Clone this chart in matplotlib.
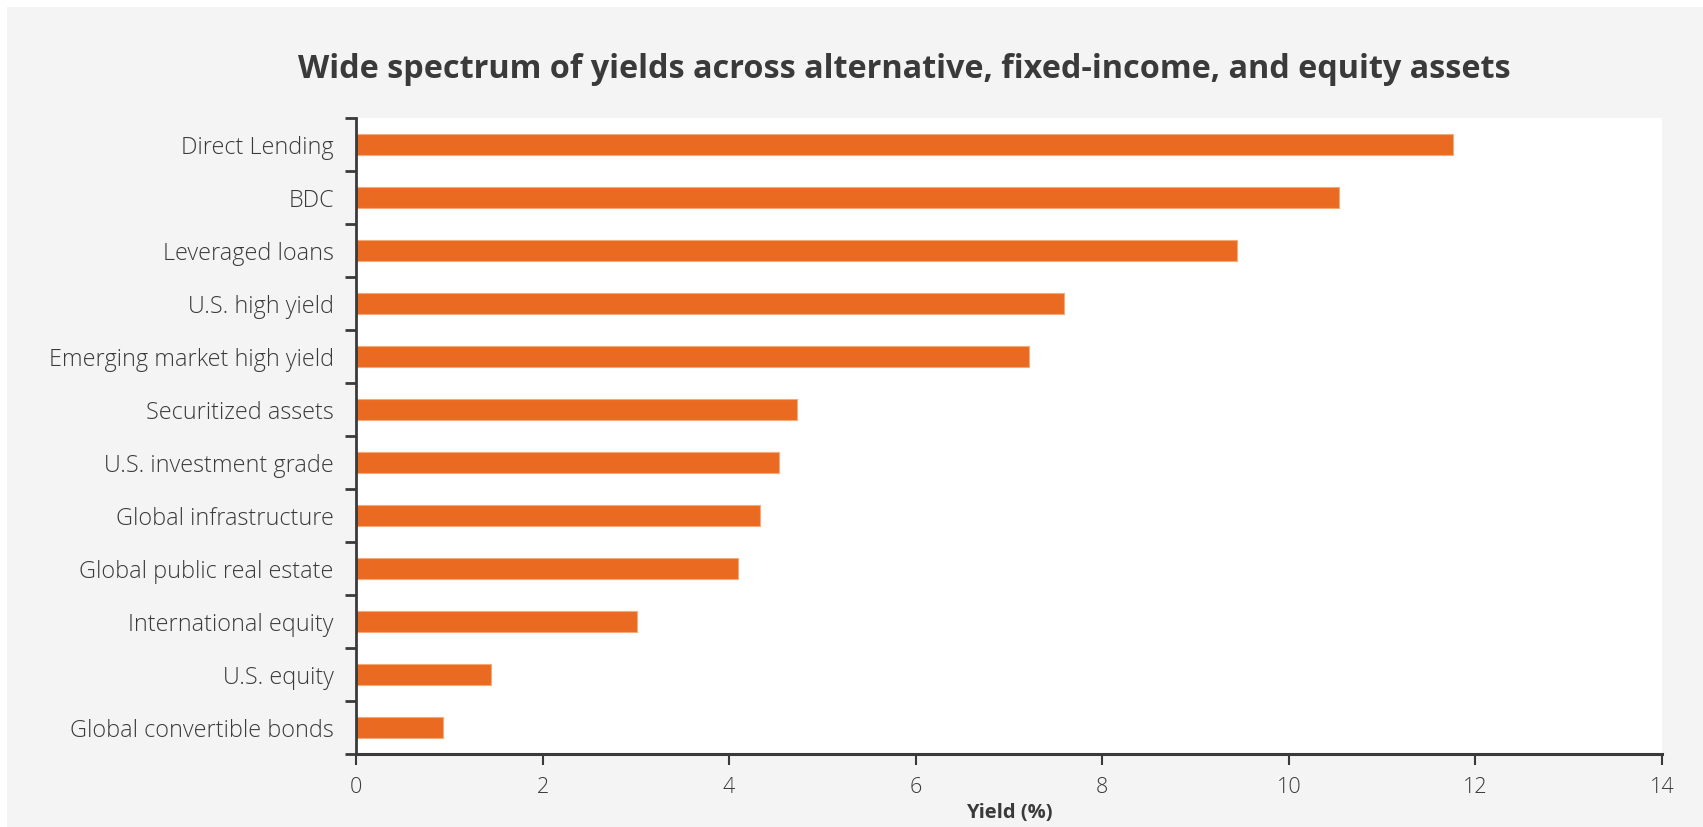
import matplotlib
matplotlib.use("Agg")
import matplotlib.pyplot as plt
import numpy as np
from matplotlib.patches import Rectangle

categories = [
    "Direct Lending", "BDC", "Leveraged loans", "U.S. high yield",
    "Emerging market high yield", "Securitized assets", "U.S. investment grade",
    "Global infrastructure", "Global public real estate", "International equity",
    "U.S. equity", "Global convertible bonds",
]
yields = [11.76, 10.54, 9.44, 7.59, 7.21, 4.73, 4.53, 4.33, 4.10, 3.01, 1.45, 0.93]
x_ticks = [0, 2, 4, 6, 8, 10, 12, 14]

title = "Wide spectrum of yields across alternative, fixed-income, and equity assets"
xlabel = "Yield (%)"

W, H = 1703, 828
plt.rcParams['font.family'] = ['Open Sans', 'DejaVu Sans']
txt = "#3a3a3a"
bar_color = "#EA6A21"

fig = plt.figure(figsize=(W / 100, H / 100), dpi=100)
fig.patch.set_facecolor("white")
fig.add_artist(Rectangle((7 / W, 0), 1, 1 - 8 / H, transform=fig.transFigure,
                         facecolor="#f4f4f4", edgecolor="none", zorder=-10))

ax = fig.add_axes([356 / W, 1 - 755 / H, 1306 / W, 636 / H])
ax.set_facecolor("white")
y = np.arange(len(categories))
ax.barh(y, yields, height=0.4, color=bar_color, edgecolor="#F5A878", linewidth=0.8)

ax.set_xlim(0, 14)
ax.set_ylim(len(categories) - 0.5, -0.5)
ax.set_xticks(x_ticks)
ax.set_xticklabels([str(t) for t in x_ticks], fontsize=15.5, color=txt, fontweight="light")
ax.set_yticks(y)
ax.set_yticklabels(categories, fontsize=16.8, color=txt, fontweight="light")
ax.set_yticks(np.arange(-0.5, len(categories), 1), minor=True)
ax.tick_params(axis="y", which="major", length=0, pad=16)
ax.tick_params(axis="y", which="minor", length=8, width=2, color="#3a3a3a", direction="out")
ax.tick_params(axis="x", which="major", length=8, width=1.5, color="#3a3a3a", pad=8)

for s in ["top", "right"]:
    ax.spines[s].set_visible(False)
ax.spines["left"].set_color("#3a3a3a")
ax.spines["left"].set_linewidth(2)
ax.spines["bottom"].set_color("#3a3a3a")
ax.spines["bottom"].set_linewidth(2.2)

fig.text(904 / W, 1 - 70 / H, title, ha="center", va="center", fontsize=23.3,
         fontweight="bold", color=txt)
fig.text(1009 / W, 1 - 813 / H, xlabel, ha="center", va="center", fontsize=14.5,
         fontweight="bold", color=txt)

fig.savefig("out.png", dpi=100, facecolor=fig.get_facecolor())
